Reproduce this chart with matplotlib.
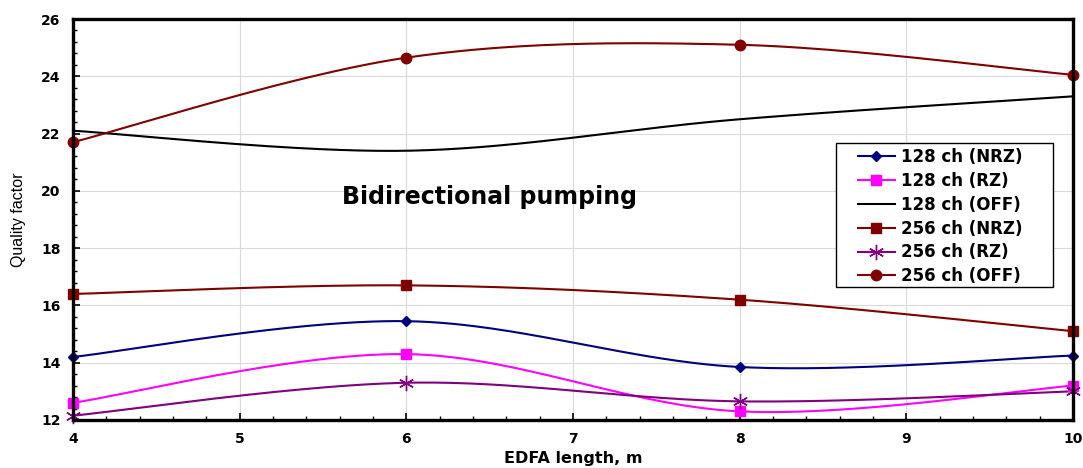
import numpy as np
import matplotlib
matplotlib.use("Agg")
import matplotlib.pyplot as plt
from matplotlib.ticker import MultipleLocator
from matplotlib.patches import Rectangle

# EDFA length, m
edfa_len = [4, 6, 8, 10]

# Quality factor for each configuration
q_128_nrz = [14.2, 15.45, 13.85, 14.25]
q_128_rz = [12.6, 14.3, 12.3, 13.2]
q_128_off = [22.1, 21.4, 22.5, 23.3]
q_256_nrz = [16.4, 16.7, 16.2, 15.1]
q_256_rz = [12.15, 13.3, 12.65, 13.0]
q_256_off = [21.7, 24.65, 25.1, 24.05]

labels = ["128 ch (NRZ)", "128 ch (RZ)", "128 ch (OFF)",
          "256 ch (NRZ)", "256 ch (RZ)", "256 ch (OFF)"]


def smooth(xs, ys, n=60):
    # Excel-style smoothed line (Bezier through the points)
    p = np.c_[xs, ys].astype(float)
    out = []
    for i in range(len(p) - 1):
        p_prev = p[i - 1] if i > 0 else p[i]
        p_next = p[i + 2] if i + 2 < len(p) else p[i + 1]
        c1 = p[i] + (p[i + 1] - p_prev) / 6
        c2 = p[i + 1] - (p_next - p[i]) / 6
        t = np.linspace(0, 1, n)[:, None]
        seg = ((1 - t) ** 3 * p[i] + 3 * (1 - t) ** 2 * t * c1
               + 3 * (1 - t) * t ** 2 * c2 + t ** 3 * p[i + 1])
        out.append(seg if i == 0 else seg[1:])
    out = np.vstack(out)
    return out[:, 0], out[:, 1]


plt.rcParams['font.family'] = ['DejaVu Sans']

fig = plt.figure(figsize=(10.83, 4.68), dpi=100)
ax = fig.add_axes([0.0674, 0.1026, 0.9234, 0.8568])

series = [
    (q_128_nrz, '#000080', 'D', 5),
    (q_128_rz, '#FF00FF', 's', 7.5),
    (q_128_off, '#000000', None, 0),
    (q_256_nrz, '#800000', 's', 7),
    (q_256_rz, '#800080', (6, 2, 0), 11),
    (q_256_off, '#800000', 'o', 7.5),
]

handles = []
for (vals, col, mk, ms), lab in zip(series, labels):
    sx, sy = smooth(edfa_len, vals)
    ax.plot(sx, sy, color=col, lw=1.5, zorder=3, clip_on=False)
    if mk is not None:
        ax.plot(edfa_len, vals, ls='none', marker=mk, ms=ms, color=col,
                mec=col, mew=1.0, zorder=4, clip_on=False)
    h, = ax.plot([], [], color=col, lw=1.5, marker=mk, ms=ms, mec=col, mew=1.0)
    handles.append(h)

ax.set_xlim(4, 10)
ax.set_ylim(12, 26)
ax.xaxis.set_major_locator(MultipleLocator(1))
ax.xaxis.set_minor_locator(MultipleLocator(0.2))
ax.yaxis.set_major_locator(MultipleLocator(2))
ax.yaxis.set_minor_locator(MultipleLocator(0.4))
ax.grid(True, which='major', color='#DADADA', lw=0.8, zorder=0)
ax.set_axisbelow(True)

ax.tick_params(which='both', direction='in', top=False, right=False)
ax.tick_params(which='major', length=5, width=1.2, labelsize=10, pad=9)
ax.tick_params(which='minor', length=3, width=1.0)
for lbl in ax.get_xticklabels() + ax.get_yticklabels():
    lbl.set_fontweight('bold')
for sp in ax.spines.values():
    sp.set_linewidth(2.4)
    sp.set_zorder(5)

ax.set_xlabel("EDFA length, m", fontsize=11.5, fontweight='bold', labelpad=3)
ax.set_ylabel("Quality factor", fontsize=11.5, labelpad=11,
              family=['Liberation Sans', 'DejaVu Sans'])

ax.text(6.5, 19.8, "Bidirectional pumping", fontsize=17, fontweight='bold',
        ha='center', va='center')

# legend box drawn separately so the inner padding matches the original
ax.add_patch(Rectangle((0.763, 0.3317), 0.217, 0.3591, transform=ax.transAxes,
                       facecolor='white', edgecolor='black', lw=1.0, zorder=6))
leg = ax.legend(handles, labels, loc='upper left', bbox_to_anchor=(0.785, 0.678),
                prop={'size': 12, 'weight': 'bold'}, frameon=False,
                handlelength=2.2, handletextpad=0.4, labelspacing=0.35,
                borderpad=0, borderaxespad=0)
leg.set_zorder(7)

fig.savefig("out.png", dpi=100)
